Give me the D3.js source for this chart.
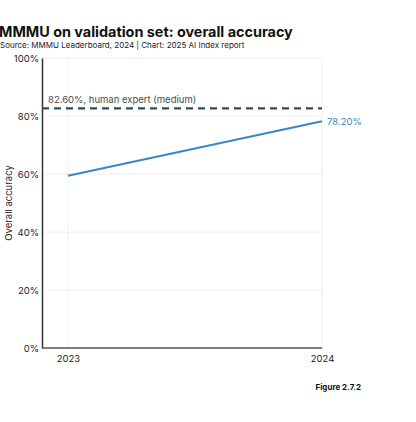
<!DOCTYPE html>
<html>
<head>
<meta charset="utf-8">
<script src="https://cdn.jsdelivr.net/npm/d3@7"></script>
<style>
  body { margin: 0; background: #fff; }
  text { font-family: "Inter", "Noto Sans", sans-serif; }
</style>
</head>
<body>
<svg id="chart" width="416" height="422"></svg>
<script>
const years = ['2023', '2024']
const accuracy = [59.4, 78.2]
const yTicks = [0, 20, 40, 60, 80, 100]
const humanExpert = 82.6

const svg = d3.select('#chart')

const x = d3.scalePoint().domain(years).range([68, 322])
const y = d3.scaleLinear().domain([0, 100]).range([348, 58])

// title + source
svg.append('text').attr('x', -1).attr('y', 37)
  .attr('font-size', 14.4).attr('font-weight', 700).attr('fill', '#111')
  .text('MMMU on validation set: overall accuracy')
svg.append('text').attr('x', 0).attr('y', 48)
  .attr('font-size', 8).attr('fill', '#222')
  .text('Source: MMMU Leaderboard, 2024 | Chart: 2025 AI Index report')

// grid
svg.append('g').selectAll('line').data(yTicks.filter(d => d > 0)).enter().append('line')
  .attr('x1', 42).attr('x2', 322)
  .attr('y1', d => y(d)).attr('y2', d => y(d))
  .attr('stroke', '#f0f0f0').attr('stroke-width', 1)
svg.append('g').selectAll('line').data(years).enter().append('line')
  .attr('x1', d => x(d)).attr('x2', d => x(d))
  .attr('y1', y(100)).attr('y2', y(0))
  .attr('stroke', '#f0f0f0').attr('stroke-width', 1)

// y axis
const yAxis = svg.append('g').attr('transform', 'translate(42,0)')
  .call(d3.axisLeft(y).tickValues(yTicks).tickSize(0).tickPadding(3).tickFormat(d => d + '%'))
yAxis.select('.domain').attr('stroke', '#333').attr('stroke-width', 1.5)
yAxis.selectAll('text').attr('font-size', 9.5).attr('fill', '#222')

// x axis
const xAxis = svg.append('g').attr('transform', `translate(0,${y(0)})`)
  .call(d3.axisBottom(x).tickSize(0).tickPadding(7))
xAxis.select('.domain').attr('d', `M42,0H${x('2024')}`).attr('stroke', '#555').attr('stroke-width', 1.5)
xAxis.selectAll('text').attr('font-size', 9.5).attr('fill', '#222')

svg.append('text')
  .attr('transform', `translate(12,${y(50)}) rotate(-90)`)
  .attr('text-anchor', 'middle').attr('font-size', 9.5).attr('fill', '#222')
  .text('Overall accuracy')

// human expert reference
svg.append('line')
  .attr('x1', 42).attr('x2', x('2024'))
  .attr('y1', y(humanExpert)).attr('y2', y(humanExpert))
  .attr('stroke', '#2f4f4c').attr('stroke-width', 2.2).attr('stroke-dasharray', '7,5')
svg.append('text').attr('x', 48).attr('y', y(humanExpert) - 5)
  .attr('font-size', 9.5).attr('fill', '#3f4f4d')
  .text(humanExpert.toFixed(2) + '%, human expert (medium)')

// series
const line = d3.line().x((d, i) => x(years[i])).y(d => y(d))
svg.append('path').datum(accuracy)
  .attr('d', line).attr('fill', 'none')
  .attr('stroke', '#3a87c8').attr('stroke-width', 2.2)
svg.append('text').attr('x', x('2024') + 5).attr('y', y(accuracy[1]) + 4)
  .attr('font-size', 9.5).attr('fill', '#3a87c8')
  .text(accuracy[1].toFixed(2) + '%')

svg.append('text').attr('x', 361).attr('y', 390)
  .attr('text-anchor', 'end').attr('font-size', 8).attr('font-weight', 700).attr('fill', '#111')
  .text('Figure 2.7.2')
</script>
</body>
</html>
